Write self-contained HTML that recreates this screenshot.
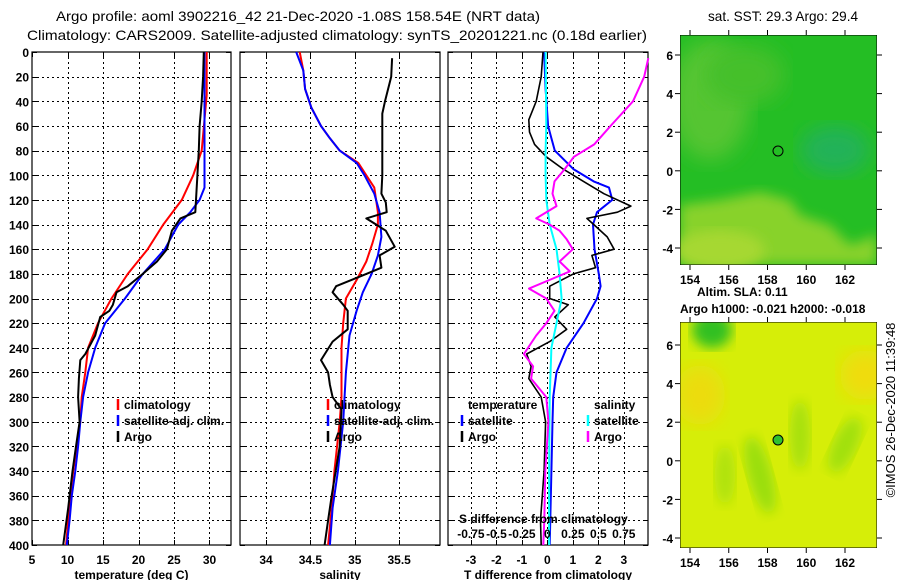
<!DOCTYPE html>
<html><head><meta charset="utf-8"><style>
html,body{margin:0;padding:0;background:#fff;}
svg{display:block;font-family:"Liberation Sans",sans-serif;}
.t{font-size:12px;font-weight:bold;fill:#000;}
.h{font-size:14px;fill:#000;}
</style></head><body>
<svg id="fig" width="900" height="580" viewBox="0 0 900 580">
<defs>
<filter id="blur6"><feGaussianBlur stdDeviation="6"/></filter>
<filter id="blur10"><feGaussianBlur stdDeviation="10"/></filter>
<clipPath id="m1clip"><rect x="680" y="35" width="197" height="230"/></clipPath>
<clipPath id="m2clip"><rect x="680" y="322" width="197" height="226"/></clipPath>
</defs>
<text class="h" x="56" y="21" textLength="484" lengthAdjust="spacingAndGlyphs">Argo profile: aoml 3902216_42 21-Dec-2020 -1.08S 158.54E (NRT data)</text>
<text class="h" x="27" y="40" textLength="620" lengthAdjust="spacingAndGlyphs">Climatology: CARS2009. Satellite-adjusted climatology: synTS_20201221.nc (0.18d earlier)</text>
<text class="h" x="708" y="21" textLength="150" lengthAdjust="spacingAndGlyphs">sat. SST: 29.3 Argo: 29.4</text>

<g id="maps">
 <g clip-path="url(#m1clip)">
  <rect x="680" y="35" width="197" height="230" fill="#24be24"/>
  <ellipse cx="710" cy="100" rx="40" ry="60" fill="#55c530" filter="url(#blur10)"/>
  <ellipse cx="745" cy="75" rx="40" ry="30" fill="#45c02c" filter="url(#blur10)"/>
  <path d="M680 205 L720 200 L760 192 L790 200 L800 215 L830 225 L850 245 L877 235 L877 265 L680 265Z" fill="#88d22c" filter="url(#blur6)"/>
  <ellipse cx="720" cy="250" rx="45" ry="20" fill="#a6d830" filter="url(#blur6)"/>
  <ellipse cx="835" cy="150" rx="35" ry="25" fill="#20b258" filter="url(#blur10)"/>
  <rect x="680" y="35" width="197" height="230" fill="none" stroke="#000"/>
  <circle cx="778" cy="151" r="5" fill="none" stroke="#000"/>
 </g>
 <g clip-path="url(#m2clip)">
  <rect x="680" y="322" width="197" height="226" fill="#d6ee08"/>
  <ellipse cx="712" cy="330" rx="20" ry="18" fill="#30c020" filter="url(#blur6)"/>
  <ellipse cx="865" cy="375" rx="25" ry="25" fill="#f0dc10" filter="url(#blur10)"/>
  <ellipse cx="700" cy="395" rx="25" ry="30" fill="#ecdc10" filter="url(#blur10)"/>
  <ellipse cx="760" cy="475" rx="12" ry="40" fill="#9ade10" filter="url(#blur6)" transform="rotate(-15 760 475)"/>
  <ellipse cx="800" cy="435" rx="10" ry="35" fill="#a6e010" filter="url(#blur6)"/>
  <ellipse cx="845" cy="445" rx="12" ry="30" fill="#a0e010" filter="url(#blur6)" transform="rotate(25 845 445)"/>
  <ellipse cx="725" cy="475" rx="10" ry="30" fill="#aee210" filter="url(#blur6)"/>
  <rect x="680" y="322" width="197" height="226" fill="none" stroke="#000"/>
  <circle cx="778" cy="440" r="5" fill="#30c030" stroke="#000"/>
 </g>
</g>
<text class="t" x="697" y="296">Altim. SLA: 0.11</text>
<text class="t" x="680" y="313">Argo h1000: -0.021 h2000: -0.018</text>
<text class="t" x="895" y="410" transform="rotate(-90 895 410)" text-anchor="middle" style="font-weight:normal;font-size:13px">©IMOS 26-Dec-2020 11:39:48</text>

<g id="panels"></g>
</svg>
<script>
// ---------- DATA ----------
const depthTicks = [0,20,40,60,80,100,120,140,160,180,200,220,240,260,280,300,320,340,360,380,400];
const tempTicks = [5,10,15,20,25,30];
const salTicks = [34,34.5,35,35.5];
const tdiffTicks = [-3,-2,-1,0,1,2,3];
const sdiffLabels = ["-0.75","-0.5","-0.25","0","0.25","0.5","0.75"];

const tClimDepth = [0,35,80,100,120,140,160,180,200,220,240,260,280,300,320,340,360,380,400];
const tClimVal   = [29.6,29.6,28.9,27.7,26.1,23.5,21.3,18.5,16.2,14.3,12.9,12.5,12.0,11.8,11.3,10.8,10.4,10.1,9.8];
const tSatDepth = [0,100,110,120,130,140,160,180,200,220,240,260,280,300,320,340,360,380,400];
const tSatVal   = [29.3,29.3,29.3,28.6,27.3,25.6,23.7,20.6,18.1,15.3,13.9,12.9,12.2,11.8,11.5,11.1,10.6,10.3,9.9];
const tArgoDepth = [0,20,40,60,80,100,130,135,145,160,170,180,190,195,205,210,215,230,245,250,265,280,300,320,340,370,400];
const tArgoVal   = [29.2,29.1,28.9,28.6,28.5,28.3,28.0,25.9,24.7,24.0,22.6,20.6,18.5,16.9,16.4,15.9,14.6,13.9,12.5,11.8,11.6,11.5,11.7,11.2,10.7,10.1,9.4];

const sClimDepth = [0,15,30,45,60,70,80,90,100,110,130,140,155,170,185,200,220,240,280,300,340,370,400];
const sClimVal   = [34.38,34.42,34.44,34.51,34.62,34.72,34.83,35.04,35.13,35.22,35.26,35.26,35.20,35.13,35.02,34.90,34.87,34.85,34.85,34.83,34.77,34.74,34.70];
const sSatDepth = [0,15,30,45,60,70,80,90,100,115,130,150,165,180,195,210,230,260,300,340,370,400];
const sSatVal   = [34.34,34.42,34.44,34.51,34.62,34.72,34.83,35.02,35.11,35.22,35.28,35.30,35.26,35.19,35.09,35.02,34.94,34.90,34.87,34.81,34.75,34.72];
const sArgoDepth = [5,20,40,50,100,115,122,130,135,140,145,158,165,175,180,190,195,205,210,225,235,250,260,270,280,290,320,360,380,400];
const sArgoVal   = [35.42,35.41,35.34,35.31,35.31,35.30,35.35,35.36,35.13,35.24,35.35,35.45,35.28,35.30,35.13,34.79,34.75,34.87,34.92,34.92,34.75,34.62,34.70,34.72,34.75,34.85,34.83,34.74,34.70,34.66];

const dTSatDepth = [0,30,60,70,80,95,105,110,120,130,140,160,180,190,200,220,240,260,280,300,340,400];
const dTSatVal   = [-0.13,-0.07,0.03,0.16,0.29,1.02,1.82,2.42,2.55,1.95,1.79,1.85,2.02,2.09,1.95,1.42,0.76,0.36,0.23,0.20,0.16,0.09];
const dTArgoDepth = [0,20,40,55,65,75,85,95,105,115,125,130,135,140,150,160,165,175,180,190,200,205,215,225,235,245,255,265,280,300,340,380,400];
const dTArgoVal   = [-0.17,-0.24,-0.44,-0.73,-0.70,-0.50,-0.04,0.62,1.42,2.22,3.28,2.75,1.55,1.82,2.35,2.62,1.75,1.89,1.02,0.09,0.09,0.82,0.29,0.76,0.09,-0.81,-0.64,-0.73,-0.24,-0.07,-0.13,-0.27,-0.24];
const dSSatDepth = [0,60,80,100,120,140,160,180,200,220,240,280,340,400];
const dSSatVal   = [-0.017,-0.01,-0.017,-0.017,-0.01,0.023,0.09,0.12,0.14,0.09,0.04,0.023,0.017,0.017];
const dSArgoDepth = [5,20,40,60,75,85,95,105,115,125,135,140,145,152,160,170,178,185,192,200,210,220,230,245,255,265,280,300,340,380,400];
const dSArgoVal   = [0.99,0.95,0.84,0.62,0.46,0.26,0.17,0.07,0.05,0.09,-0.11,0.02,0.12,0.19,0.25,0.12,0.22,0.02,-0.18,-0.01,0.07,-0.01,-0.11,-0.23,-0.14,-0.16,-0.01,0.01,-0.02,-0.03,-0.04];

const mapLonTicks = [154,156,158,160,162];
const mapLatTicks = [6,4,2,0,-2,-4];

// ---------- DRAW ----------
const NS = "http://www.w3.org/2000/svg";
const root = document.getElementById('panels');
function mk(tag, attrs, parent){ const e=document.createElementNS(NS,tag); for(const k in attrs) e.setAttribute(k,attrs[k]); (parent||root).appendChild(e); return e; }
const top0=52, bot0=545;
function yD(d){ return top0 + d/400*(bot0-top0); }
function makeX(x0,x1,v0,v1){ return v=> x0+(v-v0)/(v1-v0)*(x1-x0); }

const P = [
 {name:'temperature-panel', x0:32, x1:231, v0:5, v1:5+199/7.1, ticks:tempTicks, lab:'temperature (deg C)'},
 {name:'salinity-panel', x0:240, x1:440, v0:33.707, v1:35.96, ticks:salTicks, lab:'salinity'},
 {name:'difference-panel', x0:448, x1:648, v0:-3.9, v1:3.95, ticks:tdiffTicks, lab:'T difference from climatology'}
];
P.forEach((p,i)=>{
 p.X = makeX(p.x0,p.x1,p.v0,p.v1);
 const g = mk('g',{});
 
 
 p.g=g;
 depthTicks.forEach(d=>{ const y=Math.round(yD(d))+0.5;
  if(d>0&&d<400){ const l=mk('line',{x1:p.x0,x2:p.x1,y1:y,y2:y,stroke:'#000','stroke-dasharray':'2,3','stroke-width':1},g);  }
  mk('line',{x1:p.x0,x2:p.x0+5,y1:y,y2:y,stroke:'#000'},g); mk('line',{x1:p.x1-5,x2:p.x1,y1:y,y2:y,stroke:'#000'},g); });
 p.ticks.forEach(v=>{ const x=p.X(v); const xr=Math.round(x)+0.5;
  if(x>p.x0+1&&x<p.x1-1){ const l=mk('line',{x1:xr,x2:xr,y1:top0,y2:bot0,stroke:'#000','stroke-dasharray':'2,3','stroke-width':1},g);   }
  mk('line',{x1:xr,x2:xr,y1:top0,y2:top0+5,stroke:'#000'},g); mk('line',{x1:xr,x2:xr,y1:bot0-5,y2:bot0,stroke:'#000'},g);
  const t=mk('text',{x:x,y:bot0+19,'text-anchor':'middle',class:'t'},g); t.textContent=v;
   
 });
 mk('rect',{x:p.x0,y:top0,width:p.x1-p.x0,height:bot0-top0,fill:'none',stroke:'#000','stroke-width':1.2},g);
 const xl=mk('text',{x:(p.x0+p.x1)/2,y:579,'text-anchor':'middle',class:'t'},g);
 xl.textContent=p.lab;
 
 
});
depthTicks.forEach(d=>{ const t=mk('text',{x:29,y:yD(d)+5,'text-anchor':'end',class:'t'}); t.textContent=d;
   });

function series(p, ds, vs, color, name, w){
 const pts = ds.map((d,k)=> p.X(vs[k]).toFixed(1)+','+yD(d).toFixed(1)).join(' ');
 const l=mk('polyline',{points:pts,fill:'none',stroke:color,'stroke-width':w||2,'stroke-linejoin':'round'},p.g);
 
 
}
series(P[0],tClimDepth,tClimVal,'#f00','temperature-climatology-line');
series(P[0],tSatDepth,tSatVal,'#00f','temperature-satellite-line');
series(P[0],tArgoDepth,tArgoVal,'#000','temperature-argo-line');
series(P[1],sClimDepth,sClimVal,'#f00','salinity-climatology-line');
series(P[1],sSatDepth,sSatVal,'#00f','salinity-satellite-line');
series(P[1],sArgoDepth,sArgoVal,'#000','salinity-argo-line');
series(P[2],dTSatDepth,dTSatVal,'#00f','tdiff-satellite-line');
series(P[2],dTArgoDepth,dTArgoVal,'#000','tdiff-argo-line',1.6);
series(P[2],dSSatDepth,dSSatVal.map(v=>v*4),'#0ff','sdiff-satellite-line');
series(P[2],dSArgoDepth,dSArgoVal.map(v=>v*4),'#f0f','sdiff-argo-line');

function legend(x,y,color,label,parent){
 const g=mk('g',{},parent);
 
 
 mk('line',{x1:x,x2:x,y1:y-10,y2:y+1,stroke:color,'stroke-width':2.5},g);
 const t=mk('text',{x:x+6,y:y,class:'t'},g); t.textContent=label;
}
[[P[0],118],[P[1],328]].forEach(([p,x])=>{
 legend(x,409,'#f00','climatology',p.g); legend(x,425,'#00f','satellite-adj. clim.',p.g); legend(x,441,'#000','Argo',p.g);
});
{const t=mk('text',{x:468,y:409,class:'t'},P[2].g); t.textContent='temperature';
  }
{const t=mk('text',{x:594,y:409,class:'t'},P[2].g); t.textContent='salinity';
  }
legend(462,425,'#00f','satellite',P[2].g); legend(462,441,'#000','Argo',P[2].g);
legend(588,425,'#0ff','satellite',P[2].g); legend(588,441,'#f0f','Argo',P[2].g);
{const t=mk('text',{x:459,y:523,class:'t'},P[2].g); t.textContent='S difference from climatology';
  }
sdiffLabels.forEach((s,k)=>{ const v=parseFloat(s)*4; const t=mk('text',{x:P[2].X(v),y:538,'text-anchor':'middle',class:'t'},P[2].g); t.textContent=s;
   });

function mapAxes(top,bottom,lat6y,latm4y,lonY){
 const lonX=v=>690+(v-154)*(155/8);
 const latY=v=>lat6y+(6-v)*((latm4y-lat6y)/10);
 mapLonTicks.forEach(v=>{ const x=lonX(v);
  mk('line',{x1:x,x2:x,y1:top,y2:top-5,stroke:'#000'}); mk('line',{x1:x,x2:x,y1:bottom,y2:bottom+5,stroke:'#000'});
  const t=mk('text',{x:x,y:lonY,'text-anchor':'middle',class:'t'}); t.textContent=v;
    });
 mapLatTicks.forEach(v=>{ const y=latY(v);
  mk('line',{x1:680,x2:675,y1:y,y2:y,stroke:'#000'}); mk('line',{x1:877,x2:882,y1:y,y2:y,stroke:'#000'});
  const t=mk('text',{x:673,y:y+5,'text-anchor':'end',class:'t'}); t.textContent=v;
    });
}
mapAxes(35,265,55,248,284);
mapAxes(322,548,345,538,567);
</script>
</body></html>
